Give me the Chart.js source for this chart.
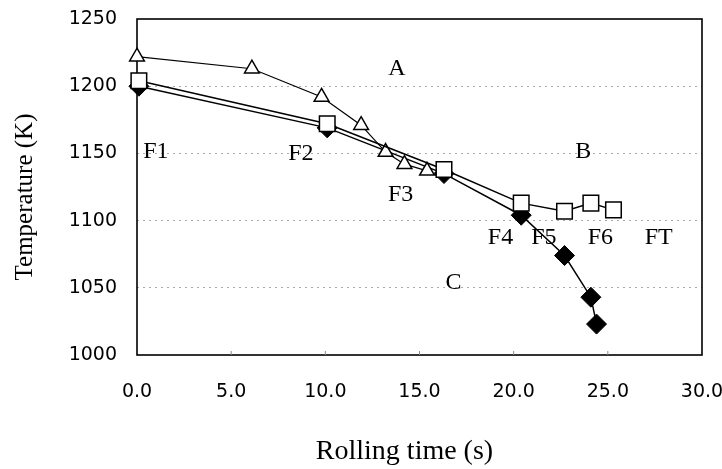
<!DOCTYPE html>
<html>
<head>
<meta charset="utf-8">
<script src="https://cdn.jsdelivr.net/npm/chart.js@4/dist/chart.umd.min.js"></script>
<style>
  html, body { margin: 0; padding: 0; background: #fff; }
  #wrap { width: 722px; height: 469px; }
</style>
</head>
<body>
<div id="wrap"><canvas id="c" width="722" height="469"></canvas></div>
<script>
// Series A (open triangles)
const timeA = [0.0, 6.1, 9.8, 11.9, 13.2, 14.2, 15.4];
const tempA = [1222, 1213, 1192, 1171, 1151, 1142, 1137];
// Series B (open squares)
const timeB = [0.1, 10.1, 16.3, 20.4, 22.7, 24.1, 25.3];
const tempB = [1204, 1172, 1138, 1113, 1107, 1113, 1108];
// Series C (filled diamonds)
const timeC = [0.1, 10.1, 16.3, 20.4, 22.7, 24.1, 24.4];
const tempC = [1200, 1169, 1135, 1104, 1074, 1043, 1023];
// Axis ticks
const xTicks = [0, 5, 10, 15, 20, 25, 30];
const yTicks = [1000, 1050, 1100, 1150, 1200, 1250];
// Axis titles
const xTitle = 'Rolling time (s)';
const yTitle = 'Temperature (K)';
// In-plot labels: text, x (s), y (K)
const noteText = ['A', 'B', 'C', 'F1', 'F2', 'F3', 'F4', 'F5', 'F6', 'FT'];
const noteX = [13.8, 23.7, 16.8, 1.0, 8.7, 14.0, 19.3, 21.6, 24.6, 27.7];
const noteY = [1213, 1151, 1054, 1151, 1150, 1119, 1087, 1087, 1087, 1087];

const toPts = (xs, ys) => xs.map((x, i) => ({ x: x, y: ys[i] }));
const SERIF = '"Liberation Serif", "DejaVu Serif", serif';

const framePlugin = {
  id: 'frame',
  beforeDatasetsDraw(chart) {
    const { ctx, chartArea: a } = chart;
    ctx.save();
    ctx.strokeStyle = '#000';
    ctx.lineWidth = 1.6;
    ctx.strokeRect(a.left, a.top, a.right - a.left, a.bottom - a.top);
    ctx.restore();
  },
  afterDatasetsDraw(chart) {
    const { ctx, chartArea: a, scales } = chart;
    ctx.save();
    // small x tick marks inside the frame
    ctx.strokeStyle = '#888';
    ctx.lineWidth = 1;
    xTicks.forEach(v => {
      if (v === 0 || v === 30) return;
      const px = scales.x.getPixelForValue(v);
      ctx.beginPath();
      ctx.moveTo(px, a.bottom);
      ctx.lineTo(px, a.bottom - 4);
      ctx.stroke();
    });
    ctx.fillStyle = '#000';
    ctx.font = '24px ' + SERIF;
    ctx.textAlign = 'center';
    ctx.textBaseline = 'middle';
    noteText.forEach((t, i) => {
      ctx.fillText(t, scales.x.getPixelForValue(noteX[i]), scales.y.getPixelForValue(noteY[i]));
    });
    // axis titles
    const cx = (a.left + a.right) / 2;
    const cy = (a.top + a.bottom) / 2;
    ctx.font = '28px ' + SERIF;
    ctx.fillText(xTitle, cx - 15, 452);
    ctx.font = '25px ' + SERIF;
    ctx.translate(25, cy + 10);
    ctx.rotate(-Math.PI / 2);
    ctx.fillText(yTitle, 0, 0);
    ctx.restore();
  }
};

new Chart(document.getElementById('c'), {
  type: 'scatter',
  data: {
    datasets: [
      {
        label: 'B',
        data: toPts(timeB, tempB),
        showLine: true,
        clip: false,
        borderColor: '#000',
        borderWidth: 1.5,
        pointStyle: 'rect',
        pointRadius: 11,
        pointBackgroundColor: '#fff',
        pointBorderColor: '#000',
        pointBorderWidth: 1.5,
        tension: 0
      },
      {
        label: 'A',
        data: toPts(timeA, tempA),
        showLine: true,
        clip: false,
        borderColor: '#000',
        borderWidth: 1.2,
        pointStyle: 'triangle',
        pointRadius: 8.5,
        pointBackgroundColor: '#fff',
        pointBorderColor: '#000',
        pointBorderWidth: 1.5,
        tension: 0
      },
      {
        label: 'C',
        data: toPts(timeC, tempC),
        showLine: true,
        clip: false,
        borderColor: '#000',
        borderWidth: 1.5,
        pointStyle: 'rectRot',
        pointRadius: 10,
        pointBackgroundColor: '#000',
        pointBorderColor: '#000',
        pointBorderWidth: 1,
        tension: 0
      }
    ]
  },
  options: {
    responsive: false,
    animation: false,
    devicePixelRatio: 1,
    layout: { padding: { left: 0, right: 20, top: 19, bottom: 0 } },
    plugins: { legend: { display: false }, tooltip: { enabled: false } },
    scales: {
      x: {
        type: 'linear',
        min: 0, max: 30,
        afterBuildTicks: s => { s.ticks = xTicks.map(v => ({ value: v })); },
        afterFit: s => { s.height = 114; s.paddingLeft = 0; s.paddingRight = 0; },
        grid: { display: false, drawTicks: false },
        border: { display: false },
        ticks: {
          padding: 26,
          color: '#000',
          maxRotation: 0,
          font: { family: '"DejaVu Sans", sans-serif', size: 19 },
          callback: v => Number(v).toFixed(1)
        },
        title: { display: false }
      },
      y: {
        type: 'linear',
        min: 1000, max: 1250,
        afterBuildTicks: s => { s.ticks = yTicks.map(v => ({ value: v })); },
        afterFit: s => { s.width = 137; s.paddingTop = 0; s.paddingBottom = 0; },
        grid: {
          drawTicks: false,
          color: ctx => (ctx.tick && (ctx.tick.value === 1000 || ctx.tick.value === 1250)) ? 'rgba(0,0,0,0)' : '#aaa',
          lineWidth: 1
        },
        border: { display: false, dash: [2, 4] },
        ticks: {
          padding: 20,
          color: '#000',
          font: { family: '"DejaVu Sans", sans-serif', size: 19 },
          callback: v => String(v)
        },
        title: { display: false }
      }
    }
  },
  plugins: [framePlugin]
});
</script>
</body>
</html>
